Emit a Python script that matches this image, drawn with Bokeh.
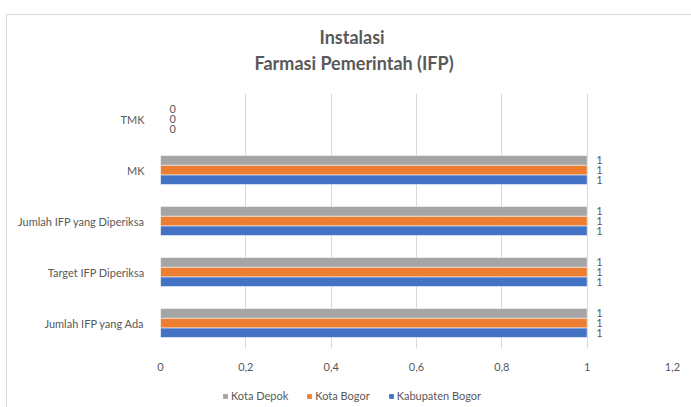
from bokeh.plotting import figure
from bokeh.layouts import column
from bokeh.models import (ColumnDataSource, FactorRange, Range1d, Legend, LegendItem,
                          FixedTicker, Title)
from bokeh.transform import dodge
from bokeh.embed import file_html
from bokeh.resources import INLINE
from bokeh.core.properties import value

# ---- data ----
categories = ["Jumlah IFP yang Ada", "Target IFP Diperiksa", "Jumlah IFP yang Diperiksa", "MK", "TMK"]
kabupaten_bogor = [1, 1, 1, 1, 0]
kota_bogor = [1, 1, 1, 1, 0]
kota_depok = [1, 1, 1, 1, 0]
x_ticks = [0, 0.2, 0.4, 0.6, 0.8, 1.0, 1.2]
x_tick_labels = ["0", "0,2", "0,4", "0,6", "0,8", "1", "1,2"]
title_lines = ["Instalasi", "Farmasi Pemerintah (IFP)"]

# ---- styles ----
C_KAB = "#4472C4"
C_KB = "#ED7D31"
C_KD = "#A5A5A5"
TXT = "#595959"
FONT = "Lato"

src = ColumnDataSource(dict(
    cat=categories,
    kab=kabupaten_bogor, kb=kota_bogor, kd=kota_depok,
    kab_l=[str(v) for v in kabupaten_bogor],
    kb_l=[str(v) for v in kota_bogor],
    kd_l=[str(v) for v in kota_depok],
))

# ---------------- main chart ----------------
p = figure(y_range=FactorRange(*categories), x_range=(0, 1.2),
           width=684, height=366, output_backend="svg", toolbar_location=None,
           min_border_left=153, min_border_right=19, min_border_top=78, min_border_bottom=33)

bh = 0.19
series = [("kab", "kab_l", -bh, C_KAB), ("kb", "kb_l", 0.0, C_KB), ("kd", "kd_l", bh, C_KD)]
for col, lcol, off, colr in series:
    p.hbar(y=dodge("cat", off, range=p.y_range), left=0, right=col, height=bh,
           source=src, fill_color=colr, line_color="white", line_width=0.5)
    p.text(x=col, y=dodge("cat", off, range=p.y_range), text=lcol, source=src,
           x_offset=9, text_baseline="middle", text_align="left",
           text_font=value(FONT), text_font_size="11px", text_color=TXT)

p.outline_line_color = None
p.ygrid.visible = False
p.xgrid.grid_line_color = "#d9d9d9"

p.xaxis.ticker = FixedTicker(ticks=x_ticks)
p.xaxis.major_label_overrides = dict(zip(x_ticks, x_tick_labels))
for ax in (p.xaxis, p.yaxis):
    ax.axis_line_color = None
    ax.major_tick_line_color = None
    ax.minor_tick_line_color = None
    ax.major_label_text_color = TXT
    ax.major_label_text_font = FONT
p.xaxis.major_label_text_font_size = "11px"
p.xaxis.major_label_standoff = 8
p.yaxis.major_label_text_font_size = "11px"
p.yaxis.major_label_standoff = 10

# titles: spacer nearest the frame, then second line, then first line
p.add_layout(Title(text=" ", text_font_size="1px", standoff=15), "above")
for txt, off, so in zip(reversed(title_lines), [94, 159], [4, 0]):
    p.add_layout(Title(text=txt, align="left", offset=off, standoff=so,
                       text_font=FONT, text_font_size="18px", text_font_style="bold",
                       text_color=TXT), "above")

# ---------------- legend strip ----------------
lg = figure(y_range=FactorRange("legend"), x_range=Range1d(2, 3),
            width=684, height=26, output_backend="svg", toolbar_location=None,
            x_axis_location=None, y_axis_location=None,
            min_border_left=0, min_border_right=0, min_border_top=0, min_border_bottom=0)
lg.outline_line_color = None
lg.grid.visible = False
lr = {}
for col, lcol, off, colr in series:
    lr[col] = lg.hbar(y=dodge("cat", off, range=lg.y_range), left=0, right=col, height=bh,
                      source=src, fill_color=colr, line_color=None)

legend = Legend(items=[LegendItem(label="Kota Depok", renderers=[lr["kd"]]),
                       LegendItem(label="Kota Bogor", renderers=[lr["kb"]]),
                       LegendItem(label="Kabupaten Bogor", renderers=[lr["kab"]])],
                orientation="horizontal", location=(62, 5),
                border_line_alpha=0, background_fill_alpha=0,
                label_text_font_size="11px", label_text_color=TXT, label_text_font=FONT,
                glyph_width=6, glyph_height=6, spacing=18, padding=0, margin=0,
                label_standoff=3, label_height=12)
lg.add_layout(legend)

page = column(p, lg, spacing=0,
              styles={"margin-left": "6px", "margin-top": "14px",
                      "border-left": "1px solid #d9d9d9", "border-top": "1px solid #d9d9d9"})

open("out.html", "w").write(file_html(page, INLINE))
